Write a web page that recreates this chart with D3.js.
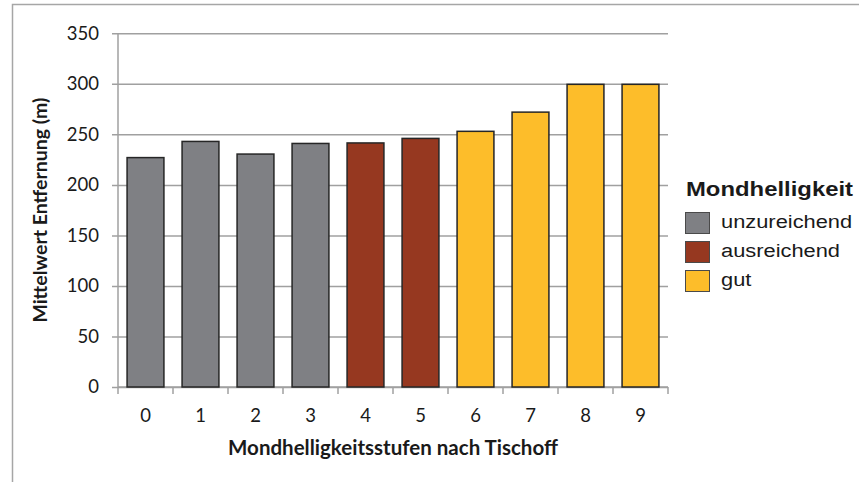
<!DOCTYPE html>
<html>
<head>
<meta charset="utf-8">
<script src="https://cdn.jsdelivr.net/npm/d3@7"></script>
<style>
  body { margin: 0; background: #fff; }
  svg text { fill: #1a1a1a; }
</style>
</head>
<body>
<svg id="chart" width="859" height="482"></svg>
<script>
// Mittelwert Entfernung je Mondhelligkeitsstufe
let stufen = ['0', '1', '2', '3', '4', '5', '6', '7', '8', '9'];
let werte = [227, 243, 230.5, 241, 241.5, 246, 253, 272, 299.5, 299.5];
let klasse = ['unzureichend', 'unzureichend', 'unzureichend', 'unzureichend',
              'ausreichend', 'ausreichend', 'gut', 'gut', 'gut', 'gut'];
let klassen = ['unzureichend', 'ausreichend', 'gut'];
let farben = ['#7f8084', '#963820', '#fdbd2a'];
let yTicks = [0, 50, 100, 150, 200, 250, 300, 350];

let svg = d3.select('#chart'),
    margin = {top: 33.3, left: 118, right: 191, bottom: 95},
    width = +svg.attr('width') - margin.left - margin.right,
    height = +svg.attr('height') - margin.top - margin.bottom;

// outer frame
svg.append('rect')
    .attr('x', 12.5).attr('y', 4.5)
    .attr('width', 900).attr('height', 600)
    .attr('fill', 'none')
    .attr('stroke', '#a6a6a6')
    .attr('stroke-width', 1.5);

let x = d3.scaleBand().domain(stufen).range([0, width]).paddingInner(0.33).paddingOuter(0.165),
    xb = d3.scaleBand().domain(stufen).range([0, width]),
    y = d3.scaleLinear().domain([0, 350]).range([height, 0]),
    color = d3.scaleOrdinal().domain(klassen).range(farben);

let g = svg.append('g')
    .attr('transform', 'translate(' + margin.left + ',' + margin.top + ')');

// gridlines + y axis
g.append('g')
    .attr('class', 'axis axis--y')
    .call(d3.axisLeft(y).tickValues(yTicks).tickSize(-width).tickSizeOuter(0).tickPadding(19))
    .call(a => a.select('.domain').remove())
    .call(a => a.selectAll('.tick line').attr('x1', -6).attr('stroke', '#a0a0a0').attr('stroke-width', 1.5))
    .call(a => a.selectAll('.tick text')
        .attr('font-family', 'Lato, sans-serif').attr('font-size', 18.5).attr('fill', '#1a1a1a'));

g.append('line')
    .attr('x1', 0).attr('x2', 0).attr('y1', 0).attr('y2', height)
    .attr('stroke', '#a0a0a0').attr('stroke-width', 1.5);

// x axis with ticks at band edges
let xAxis = g.append('g')
    .attr('class', 'axis axis--x')
    .attr('transform', 'translate(0,' + height + ')');

xAxis.append('line')
    .attr('x1', 0).attr('x2', width)
    .attr('stroke', '#a0a0a0').attr('stroke-width', 1.5);

xAxis.selectAll('.xtick')
    .data(stufen.concat(['end']))
    .enter()
    .append('line')
    .attr('class', 'xtick')
    .attr('x1', d => d === 'end' ? width : xb(d))
    .attr('x2', d => d === 'end' ? width : xb(d))
    .attr('y1', 0).attr('y2', 7)
    .attr('stroke', '#a0a0a0').attr('stroke-width', 1.5);

xAxis.selectAll('.xlabel')
    .data(stufen)
    .enter()
    .append('text')
    .attr('class', 'xlabel')
    .attr('x', d => xb(d) + xb.bandwidth() / 2)
    .attr('y', 35)
    .attr('text-anchor', 'middle')
    .attr('font-family', 'Lato, sans-serif')
    .attr('font-size', 18.5)
    .text(d => d);

// bars
g.selectAll('.bar')
    .data(stufen)
    .enter()
    .append('rect')
    .attr('class', 'bar')
    .attr('x', d => x(d))
    .attr('width', x.bandwidth())
    .attr('y', (d, i) => y(werte[i]))
    .attr('height', (d, i) => y(0) - y(werte[i]))
    .attr('fill', (d, i) => color(klasse[i]))
    .attr('stroke', '#262626')
    .attr('stroke-width', 1.5);

// axis titles
svg.append('text')
    .attr('x', margin.left + width / 2)
    .attr('y', 455)
    .attr('text-anchor', 'middle')
    .attr('font-family', 'Lato, sans-serif')
    .attr('font-weight', 'bold')
    .attr('font-size', 20.5)
    .text('Mondhelligkeitsstufen nach Tischoff');

svg.append('text')
    .attr('transform', 'translate(47,' + (margin.top + height / 2) + ') rotate(-90)')
    .attr('text-anchor', 'middle')
    .attr('font-family', 'Lato, sans-serif')
    .attr('font-weight', 'bold')
    .attr('font-size', 19.5)
    .text('Mittelwert Entfernung (m)');

// legend
let legend = svg.append('g').attr('transform', 'translate(685,0)');

legend.append('text')
    .attr('x', 1).attr('y', 196)
    .attr('font-family', 'Liberation Sans, Arial, sans-serif')
    .attr('font-weight', 'bold')
    .attr('font-size', 21)
    .attr('textLength', 167)
    .attr('lengthAdjust', 'spacingAndGlyphs')
    .text('Mondhelligkeit');

let item = legend.selectAll('.item')
    .data(klassen)
    .enter()
    .append('g')
    .attr('class', 'item')
    .attr('transform', (d, i) => 'translate(0,' + (212 + i * 29) + ')');

item.append('rect')
    .attr('x', 0.5).attr('y', 0.5)
    .attr('width', 24).attr('height', 21)
    .attr('fill', d => color(d))
    .attr('stroke', '#4a4a4a')
    .attr('stroke-width', 1);

item.append('text')
    .attr('transform', 'translate(36,16) scale(1.15,1)')
    .attr('font-family', 'Liberation Sans, Arial, sans-serif')
    .attr('font-size', 19)
    .attr('fill', '#1a1a1a')
    .text(d => d);
</script>
</body>
</html>
